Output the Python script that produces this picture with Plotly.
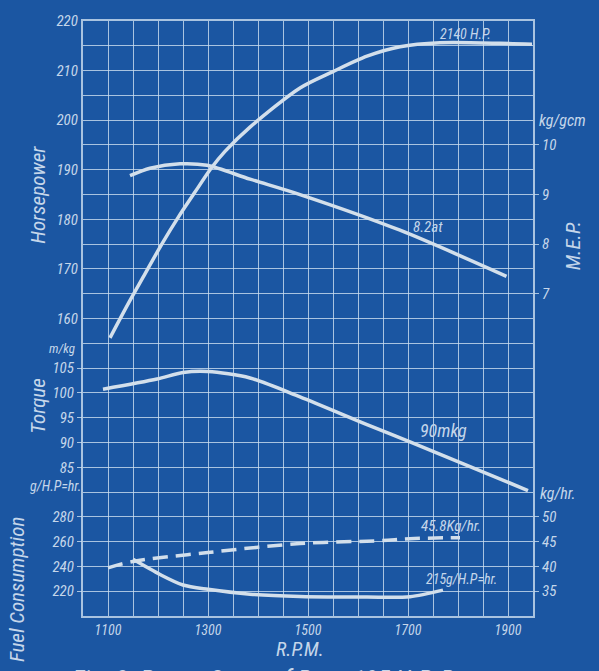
import plotly.graph_objects as go

# ---------------- data ----------------
rpm_hp = [1104, 1141, 1174, 1207, 1241, 1274, 1307, 1334, 1384, 1484, 1550, 1618, 1684, 1764, 1884, 1948]
hp = [156.1, 163.1, 169.0, 174.9, 180.5, 185.5, 190.4, 193.7, 198.6, 206.5, 209.8, 212.9, 214.8, 215.6, 215.5, 215.3]

rpm_mep = [1144, 1184, 1244, 1298, 1384, 1484, 1684, 1897]
mep = [9.38, 9.53, 9.62, 9.59, 9.31, 9.00, 8.28, 7.35]

rpm_tq = [1090, 1198, 1250, 1300, 1384, 1484, 1618, 1704, 1818, 1940]
torque = [100.75, 102.8, 104.1, 104.3, 103.0, 99.2, 93.6, 90.1, 85.4, 80.3]

rpm_sfc = [1150, 1204, 1250, 1300, 1384, 1484, 1618, 1704, 1770]
sfc = [245.7, 233.5, 225.0, 221.5, 217.6, 215.8, 215.3, 215.6, 220.9]

rpm_kgh = [1100, 1150, 1300, 1484, 1644, 1704, 1804]
kgh = [39.7, 41.0, 42.8, 44.6, 45.2, 45.6, 45.8]

rpm_grid = list(range(1050, 1951, 50))
rpm_labels = {1100: "1100", 1300: "1300", 1500: "1500", 1700: "1700", 1900: "1900"}

hp_grid = list(range(100, 221, 5))
hp_labels = {160: "160", 170: "170", 180: "180", 190: "190", 200: "200", 210: "210", 220: "220"}
torque_ticks = [85, 90, 95, 100, 105]
sfc_ticks = [220, 240, 260, 280]
mep_ticks = [7, 8, 9, 10]
kgh_ticks = [35, 40, 45, 50]

# ---------------- style ----------------
BG = "#1b56a2"
GRID = "rgba(205,222,240,0.80)"
INK = "#d3dfeb"
TXT = "#c5d6ea"
FONT = "Liberation Sans Narrow, Roboto Condensed, Roboto, DejaVu Sans"

def tfont(size):
    return dict(family=FONT, size=size, color=TXT, style="italic")

fig = go.Figure()
line = dict(color=INK, width=3.5, shape="spline", smoothing=0.8)

fig.add_trace(go.Scatter(x=rpm_hp, y=hp, mode="lines", line=line, yaxis="y", name="HP"))
fig.add_trace(go.Scatter(x=rpm_mep, y=mep, mode="lines", line=line, yaxis="y4", name="MEP"))
fig.add_trace(go.Scatter(x=rpm_tq, y=torque, mode="lines", line=line, yaxis="y2", name="Torque"))
fig.add_trace(go.Scatter(x=rpm_sfc, y=sfc, mode="lines", line=line, yaxis="y3", name="g/HP-hr"))
fig.add_trace(go.Scatter(x=rpm_kgh, y=kgh, mode="lines",
                         line=dict(color=INK, width=3.5, dash="15px,8px", shape="spline"),
                         yaxis="y5", name="kg/hr"))

common_y = dict(zeroline=False, showgrid=False, showline=False, ticks="outside",
                ticklen=5, tickcolor=GRID, tickfont=tfont(15), fixedrange=True)

fig.update_layout(
    width=599, height=671,
    margin=dict(l=83, r=66, t=14, b=55),
    paper_bgcolor=BG, plot_bgcolor=BG,
    showlegend=False,
    xaxis=dict(range=[1050, 1950], tickvals=rpm_grid,
               ticktext=[rpm_labels.get(v, "") for v in rpm_grid],
               showgrid=True, gridcolor=GRID, gridwidth=1.3,
               showline=True, mirror=True, linecolor=GRID, linewidth=2,
               zeroline=False, ticks="", tickfont=tfont(14)),
    yaxis=dict(range=[100, 220], tickvals=hp_grid,
               ticktext=[hp_labels.get(v, "") for v in hp_grid],
               showgrid=True, gridcolor=GRID, gridwidth=1.3,
               showline=True, mirror=True, linecolor=GRID, linewidth=2,
               zeroline=False, ticks="", tickfont=tfont(15)),
    yaxis2=dict(common_y, range=[55, 175], tickvals=torque_ticks,
                overlaying="y", side="left", anchor="x"),
    yaxis3=dict(common_y, range=[200, 680], tickvals=sfc_ticks,
                overlaying="y", side="left", anchor="x"),
    yaxis4=dict(common_y, range=[0.5, 12.5], tickvals=mep_ticks,
                overlaying="y", side="right", anchor="x"),
    yaxis5=dict(common_y, range=[30, 150], tickvals=kgh_ticks,
                overlaying="y", side="right", anchor="x"),
)

def ann(text, x, y, size, angle=0, xanchor="center", yanchor="middle"):
    fig.add_annotation(text=text, x=x, y=y, xref="paper", yref="paper",
                       showarrow=False, textangle=angle, font=tfont(size),
                       xanchor=xanchor, yanchor=yanchor)

ann("Horsepower", -0.10, 0.708, 21, -90)
ann("Torque", -0.102, 0.352, 21, -90)
ann("Fuel Consumption", -0.147, 0.045, 21, -90)
ann("M.E.P.", 1.089, 0.623, 21, -90)
ann("R.P.M.", 0.482, -0.056, 20)
ann("m/kg", -0.047, 0.450, 13)
ann("g/H.P=hr.", 0.0, 0.219, 14, xanchor="right")
ann("kg/gcm", 1.009, 0.832, 16, xanchor="left")
ann("kg/hr.", 1.011, 0.206, 16, xanchor="left")
ann("2140 H.P.", 0.849, 0.978, 14)
ann("8.2at", 0.767, 0.654, 15)
ann("90mkg", 0.80, 0.312, 18)
ann("45.8Kg/hr.", 0.818, 0.151, 15)
ann("215g/H.P=hr.", 0.842, 0.063, 14)
ann("Fig. 2. Power Curve of Benz 195 H.P. B", -0.03, -0.078, 26,
    xanchor="left", yanchor="top")

fig.write_html(
    "out.html",
    config={"displayModeBar": False},
    post_script="document.body.style.margin='0';document.body.style.background='#1b56a2';",
)
